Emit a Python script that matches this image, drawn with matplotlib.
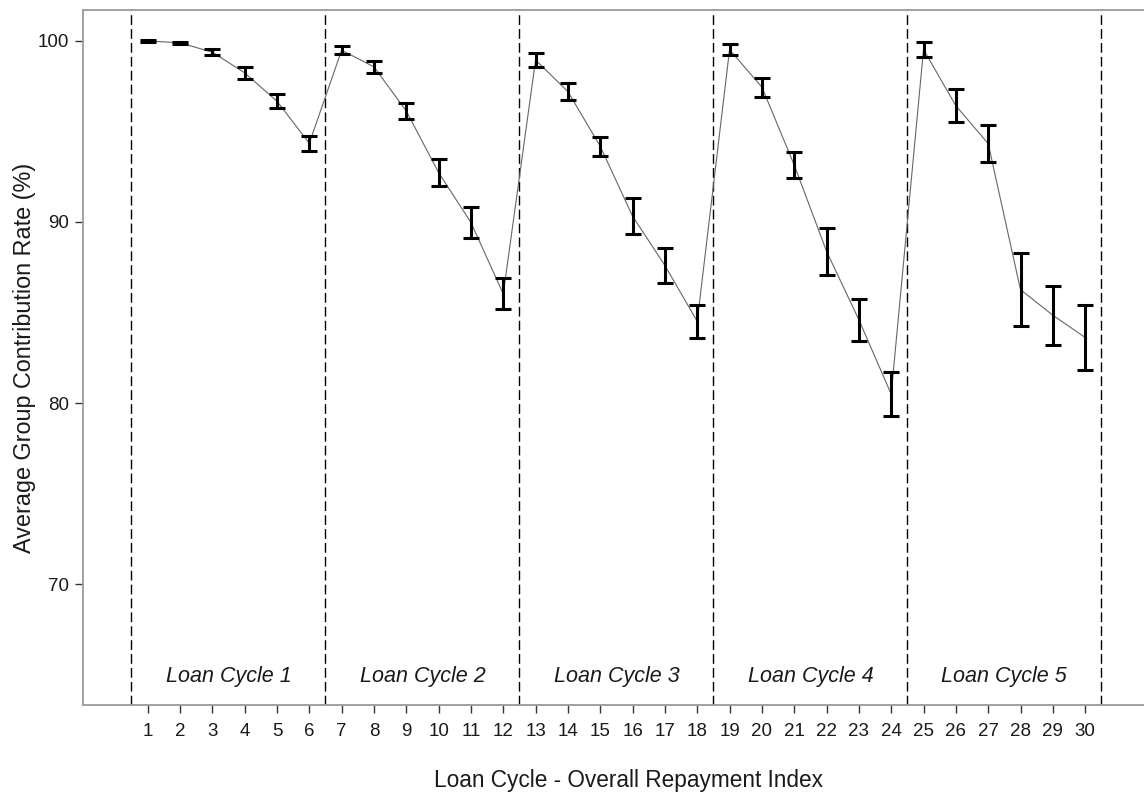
"""
Average group contribution rate per repayment, across five loan cycles.
Mean with error bars, one line through all 30 repayments, dashed dividers
between the cycles.
"""

import matplotlib
matplotlib.use("Agg")
import matplotlib.pyplot as plt

plt.rcParams["font.family"] = ["Liberation Sans", "DejaVu Sans"]

# repayment index 1..30 (6 repayments per loan cycle)
REPAYMENT_IDX = list(range(1, 31))

MEAN_RATE = [
    100.00, 99.90, 99.38, 98.24, 96.67, 94.35,
    99.49, 98.57, 96.13, 92.73, 89.97, 86.03,
    98.95, 97.20, 94.18, 90.32, 87.60, 84.51,
    99.52, 97.45, 93.15, 88.38, 84.60, 80.49,
    99.53, 96.42, 94.33, 86.26, 84.85, 83.62,
]

ERR_HALF = [
    0.03, 0.07, 0.16, 0.34, 0.40, 0.41,
    0.23, 0.32, 0.46, 0.74, 0.87, 0.86,
    0.37, 0.46, 0.53, 0.98, 0.95, 0.90,
    0.30, 0.52, 0.74, 1.31, 1.15, 1.21,
    0.40, 0.91, 1.03, 2.00, 1.64, 1.80,
]

CYCLE_LABELS = ["Loan Cycle 1", "Loan Cycle 2", "Loan Cycle 3", "Loan Cycle 4", "Loan Cycle 5"]
CYCLE_BOUNDS = [0.5, 6.5, 12.5, 18.5, 24.5, 30.5]
Y_TICKS = [70, 80, 90, 100]

SPINE_GREY = "#9a9a9a"
TEXT_COL = "#1a1a1a"


def make_figure():
    fig = plt.figure(figsize=(11.44, 7.96), dpi=100)
    ax = fig.add_axes([83 / 1144, 1 - 705 / 796, 1 - 83 / 1144, (705 - 10) / 796])

    # cycle dividers
    for xb in CYCLE_BOUNDS:
        ax.axvline(xb, color="black", linewidth=1.0, linestyle=(0, (7.0, 3.0)), zorder=1)

    ax.plot(REPAYMENT_IDX, MEAN_RATE, color="#666666", linewidth=0.8, zorder=2)
    ax.errorbar(
        REPAYMENT_IDX, MEAN_RATE, yerr=ERR_HALF, fmt="none",
        ecolor="black", elinewidth=2.2, capsize=6, capthick=2.2, zorder=3,
    )

    for i, label in enumerate(CYCLE_LABELS):
        mid = (CYCLE_BOUNDS[i] + CYCLE_BOUNDS[i + 1]) / 2
        ax.text(mid, 64.9, label, ha="center", va="center", style="italic",
                fontsize=15.5, color=TEXT_COL)

    ax.set_xlim(-1.0, 31.82)
    ax.set_ylim(63.32, 101.71)
    ax.set_xticks(REPAYMENT_IDX)
    ax.set_yticks(Y_TICKS)
    ax.tick_params(axis="both", labelsize=13.5, labelcolor=TEXT_COL, color="#333333",
                   length=6, width=1.0, direction="out")
    ax.tick_params(axis="x", pad=7)
    ax.tick_params(axis="y", pad=4)

    for side in ["left", "top", "bottom"]:
        ax.spines[side].set_color(SPINE_GREY)
        ax.spines[side].set_linewidth(1.3)
    ax.spines["right"].set_visible(False)

    ax.set_xlabel("Loan Cycle - Overall Repayment Index", fontsize=16.3, color=TEXT_COL)
    ax.set_ylabel("Average Group Contribution Rate (%)", fontsize=16.8, color=TEXT_COL, labelpad=1)
    # the original plot region runs past the right edge, so its x title sits right of centre
    ax.xaxis.set_label_coords(0.5146, -(780 - 705) / 695)
    ax.xaxis.label.set_va("center")

    fig.savefig("out.png", dpi=100)
    return fig


if __name__ == "__main__":
    make_figure()
